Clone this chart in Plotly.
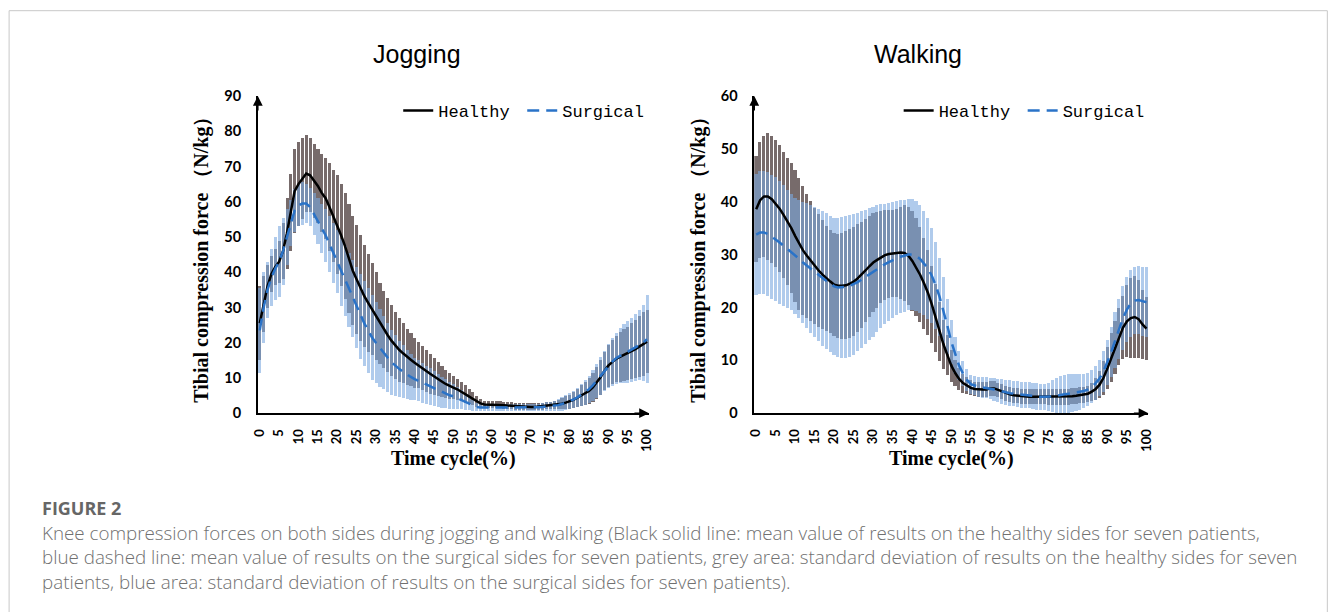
import plotly.graph_objects as go

# ---------------- data ----------------
TIME = list(range(101))                      # time cycle (%)
X_TICKS = list(range(0, 101, 5))
X_TICK_LABELS = [str(v) for v in X_TICKS]
JOG_Y_TICKS = list(range(0, 91, 10))
WALK_Y_TICKS = list(range(0, 61, 10))

JOG_H_MEAN = [
    25.5, 31, 36, 39.5, 41.5, 43, 46, 51, 57, 63,
    65, 66.5, 68, 67.5, 66, 64.5, 62.5, 61, 58.5, 56,
    53.5, 50.5, 47.5, 44, 40.5, 38, 35.5, 33.2, 31.3, 29.5,
    27.5, 25.5, 23.8, 22.2, 20.6, 19.2, 18, 17, 16, 15.2,
    14.3, 13.6, 12.8, 12, 11.2, 10.4, 9.6, 9, 8.3, 7.7,
    7.3, 6.8, 6.2, 5.5, 4.8, 4.1, 3.4, 2.8, 2.5, 2.5,
    2.5, 2.5, 2.4, 2.3, 2.2, 2.1, 2.0, 1.9, 1.9, 1.8,
    1.8, 1.8, 1.9, 2.0, 2.2, 2.3, 2.4, 2.5, 2.7, 3.0,
    3.3, 3.8, 4.4, 5.0, 5.6, 6.3, 7.3, 8.6, 10.2, 12,
    13.5, 14.5, 15.4, 16, 16.5, 17, 17.6, 18.2, 18.9, 19.6,
    20.3]
JOG_H_SD = [
    10.5, 8, 6, 5, 5, 6, 8, 10, 11, 12,
    12, 11.5, 11, 10.5, 10.5, 10.5, 11, 11.5, 12.5, 13,
    14, 14.5, 15, 15.5, 15.5, 15.5, 15, 14.5, 14, 13,
    12.5, 11.5, 11, 10.5, 10, 9.5, 9, 8.5, 8, 7.5,
    7, 6.5, 6.2, 6, 5.6, 5.2, 4.8, 4.4, 4, 3.6,
    3.2, 3, 2.8, 2.5, 2.2, 1.9, 1.5, 1.2, 1, 1,
    1, 1, 1, 1, 1, 1, 1, 1, 1, 1,
    1, 1, 1, 1, 1, 1, 1.2, 1.3, 1.5, 1.8,
    2, 2.3, 2.6, 3, 3.3, 3.7, 4, 4.5, 5, 5.5,
    6, 6.3, 6.6, 7, 7.3, 7.6, 8, 8.3, 8.6, 9,
    9]
JOG_S_MEAN = [
    23.5, 30, 35, 38.5, 41, 43, 46, 50, 54, 57.5,
    59, 59.5, 59.5, 58.5, 56.5, 54.5, 52.5, 50.5, 48, 45.5,
    43, 40, 37.5, 35, 32.5, 30, 27.5, 25.5, 23.5, 21.5,
    20, 18.5, 17.2, 15.8, 14.5, 13.5, 12.6, 11.8, 11, 10.3,
    9.7, 9.2, 8.6, 8.1, 7.5, 7, 6.5, 6, 5.5, 5.1,
    4.8, 4.3, 3.8, 3.2, 2.7, 2.2, 1.8, 1.6, 1.6, 1.6,
    1.7, 1.7, 1.7, 1.7, 1.6, 1.6, 1.5, 1.5, 1.5, 1.5,
    1.5, 1.6, 1.7, 1.8, 1.9, 2.0, 2.1, 2.3, 2.6, 3.0,
    3.4, 3.9, 4.5, 5.2, 5.9, 6.8, 7.9, 9.2, 10.6, 12,
    13.4, 14.6, 15.6, 16.3, 16.9, 17.4, 18, 18.6, 19.3, 20,
    21]
JOG_S_SD = [
    12, 10, 8, 8, 9, 10, 9.5, 8, 6.5, 6,
    6, 6, 5.5, 5.5, 6, 6.5, 7, 7.5, 8, 8.5,
    9, 9.5, 10, 10.5, 11, 11.5, 12, 12, 12, 12,
    11.5, 11, 10.4, 9.8, 9.2, 8.6, 8, 7.5, 7, 6.5,
    6, 5.8, 5.6, 5.4, 5.2, 5, 4.7, 4.4, 4.1, 3.8,
    3.5, 3.1, 2.7, 2.3, 1.9, 1.5, 1.2, 1, 1, 1,
    1, 1, 1, 1, 1, 1, 1, 1, 1, 1,
    1, 1, 1, 1.1, 1.2, 1.3, 1.5, 1.7, 1.9, 2.1,
    2.3, 2.5, 2.8, 3.1, 3.5, 3.9, 4.3, 4.8, 5.3, 5.8,
    6.3, 6.8, 7.3, 7.8, 8.3, 8.7, 9.1, 9.5, 10, 10.8,
    12.5]

WALK_H_MEAN = [
    38.6, 40.3, 41, 41, 40.5, 39.6, 38.7, 37.5, 36.3, 35,
    33.5, 32, 30.8, 29.8, 28.8, 27.8, 27, 26.2, 25.5, 24.9,
    24.3, 24.1, 24.1, 24.2, 24.5, 24.9, 25.5, 26.2, 27, 27.8,
    28.5, 29, 29.5, 29.9, 30.1, 30.2, 30.3, 30.4, 30.3, 29.8,
    28.8, 27.6, 26.2, 24.6, 22.8, 20.6, 18, 15.5, 13, 11,
    9, 7.6, 6.5, 5.7, 5.2, 4.8, 4.6, 4.5, 4.5, 4.5,
    4.7, 4.7, 4.4, 4.1, 3.8, 3.6, 3.4, 3.3, 3.2, 3.1,
    3.1, 3.1, 3.1, 3.1, 3.1, 3.1, 3.1, 3.1, 3.1, 3.1,
    3.1, 3.2, 3.3, 3.4, 3.5, 3.7, 4.1, 4.6, 5.4, 6.7,
    8.5, 10.5, 12.5, 14.5, 16.2, 17.4, 18, 18.2, 17.8, 16.8,
    16]
WALK_H_SD = [
    10, 11, 11.5, 12, 12, 12, 12, 12, 12, 12.3,
    12.5, 12.4, 12.2, 11.7, 11.3, 11, 10.6, 10.3, 10, 9.8,
    9.7, 9.8, 10, 10.2, 10.3, 10.3, 10.2, 10, 9.8, 9.6,
    9.3, 9, 8.7, 8.5, 8.3, 8.3, 8.4, 8.7, 9, 9.3,
    9.5, 9.3, 9, 8.6, 8, 7.3, 6.5, 5.6, 4.7, 3.8,
    3, 2.5, 2.1, 1.8, 1.6, 1.4, 1.4, 1.4, 1.4, 1.4,
    1.4, 1.4, 1.4, 1.4, 1.4, 1.4, 1.4, 1.4, 1.4, 1.4,
    1.4, 1.4, 1.4, 1.4, 1.4, 1.5, 1.5, 1.5, 1.5, 1.5,
    1.5, 1.5, 1.5, 1.5, 1.5, 1.5, 1.7, 2, 2.5, 3.2,
    4, 4.6, 5, 5.4, 6, 6.8, 7.5, 7.7, 7.4, 6.6,
    6]
WALK_S_MEAN = [
    33.8, 34.2, 34.2, 33.9, 33.4, 32.9, 32.3, 31.7, 31.1, 30.5,
    29.8, 29.2, 28.5, 27.9, 27.3, 26.7, 26.1, 25.5, 25, 24.5,
    24, 23.8, 23.8, 23.9, 24.1, 24.4, 24.8, 25.3, 25.8, 26.3,
    26.8, 27.3, 27.8, 28.2, 28.6, 29, 29.3, 29.6, 29.8, 30,
    30, 29.7, 29.2, 28.4, 27.4, 26, 24.2, 22, 19.5, 16.5,
    13.5, 11, 9, 7.5, 6.3, 5.5, 5.2, 5, 4.9, 4.8,
    4.7, 4.5, 4.3, 4.1, 3.9, 3.8, 3.7, 3.6, 3.5, 3.5,
    3.4, 3.3, 3.2, 3.1, 3.1, 3.1, 3.2, 3.3, 3.5, 3.6,
    3.7, 3.8, 3.9, 4, 4.2, 4.5, 5, 5.7, 6.6, 7.9,
    9.6, 11.6, 13.8, 16, 18, 19.6, 20.8, 21.3, 21.4, 21.2,
    21]
WALK_S_SD = [
    11.5, 11.6, 11.7, 11.7, 11.7, 11.7, 11.6, 11.4, 11.2, 11,
    11, 11.2, 11.5, 11.8, 12.1, 12.3, 12.5, 12.7, 12.8, 12.9,
    13, 13.2, 13.3, 13.4, 13.4, 13.3, 13.1, 12.9, 12.7, 12.5,
    12.3, 12, 11.7, 11.4, 11.2, 11, 10.8, 10.7, 10.6, 10.5,
    10.5, 10.4, 10.2, 9.9, 9.5, 9, 8.2, 7.3, 6.3, 5.2,
    4.2, 3.4, 2.8, 2.3, 2, 1.8, 1.8, 1.9, 2, 2,
    2, 2.1, 2.2, 2.3, 2.3, 2.4, 2.4, 2.5, 2.5, 2.5,
    2.5, 2.5, 2.5, 2.5, 2.5, 2.6, 3, 3.4, 3.6, 3.7,
    3.7, 3.6, 3.5, 3.4, 3.2, 3.1, 3.1, 3.2, 3.4, 3.8,
    4.3, 4.8, 5.3, 5.7, 6, 6.2, 6.3, 6.3, 6.4, 6.5,
    6.6]

PANEL_TITLES = ["Jogging", "Walking"]
X_TITLE = "Time cycle(%)"
Y_TITLE = "Tibial compression force （N/kg）"
SERIES_NAMES = ["Healthy", "Surgical"]
CAPTION_HEAD = "FIGURE 2"
CAPTION_LINES = [
    "Knee compression forces on both sides during jogging and walking (Black solid line: mean value of results on the healthy sides for seven patients,",
    "blue dashed line: mean value of results on the surgical sides for seven patients, grey area: standard deviation of results on the healthy sides for seven",
    "patients, blue area: standard deviation of results on the surgical sides for seven patients).",
]

# ---------------- placement ----------------
W, H = 1333, 612
BODY = 8                        # default page margin around the figure
SX, SY = (W + 2 * BODY) / W, (H + 2 * BODY) / H
def PX(x): return (x * SX - BODY) / W       # target picture pixel -> paper
def PY(y): return 1 - (y * SY - BODY) / H

GREY = "#776b6b"
BLUE_BAND = "rgba(123,168,223,0.6)"
BLUE_LINE = "#2a73c8"
XTICK_FONT = dict(family="Lato", size=13, color="black", weight="bold")
YTICK_FONT = dict(family="Lato", size=14.5, color="black", weight="bold")
AXT_FONT = dict(family="Liberation Serif", size=20, color="black", weight="bold")

fig = go.Figure()

def add_panel(xa, ya, h_mean, h_sd, s_mean, s_sd, legend):
    fig.add_trace(go.Bar(
        x=TIME, y=[2 * s for s in h_sd], base=[m - s for m, s in zip(h_mean, h_sd)],
        width=0.8, marker=dict(color=GREY, line=dict(width=0)),
        xaxis=xa, yaxis=ya, showlegend=False, hoverinfo="skip"))
    fig.add_trace(go.Bar(
        x=TIME, y=[2 * s for s in s_sd], base=[m - s for m, s in zip(s_mean, s_sd)],
        width=0.8, marker=dict(color=BLUE_BAND, line=dict(width=0)),
        xaxis=xa, yaxis=ya, showlegend=False, hoverinfo="skip"))
    fig.add_trace(go.Scatter(
        x=TIME, y=h_mean, mode="lines", name=SERIES_NAMES[0],
        line=dict(color="black", width=2.5), xaxis=xa, yaxis=ya, legend=legend))
    fig.add_trace(go.Scatter(
        x=TIME, y=s_mean, mode="lines", name=SERIES_NAMES[1],
        line=dict(color=BLUE_LINE, width=2.5, dash="12px,7px"),
        xaxis=xa, yaxis=ya, legend=legend))

add_panel("x", "y", JOG_H_MEAN, JOG_H_SD, JOG_S_MEAN, JOG_S_SD, "legend")
add_panel("x2", "y2", WALK_H_MEAN, WALK_H_SD, WALK_S_MEAN, WALK_S_SD, "legend2")

Y_DOM = [PY(413), PY(95)]

def xaxis_cfg(dom, anchor):
    return dict(domain=dom, anchor=anchor, range=[-0.5, 100.5],
                tickmode="array", tickvals=X_TICKS, ticktext=X_TICK_LABELS,
                tickangle=-90, tickfont=XTICK_FONT, ticks="", ticklabelstandoff=9,
                showline=True, linecolor="black", linewidth=1.5,
                showgrid=False, zeroline=False,
                title=dict(text=X_TITLE, font=AXT_FONT, standoff=0))

def yaxis_cfg(rng, ticks, anchor):
    return dict(domain=Y_DOM, anchor=anchor, range=rng,
                tickmode="array", tickvals=ticks, ticktext=[str(t) for t in ticks],
                tickfont=YTICK_FONT, ticks="", ticklabelstandoff=12,
                showline=True, linecolor="black", linewidth=1.5,
                showgrid=False, zeroline=False,
                title=dict(text=Y_TITLE, font=AXT_FONT, standoff=10))

legend_common = dict(orientation="h", yanchor="middle", xanchor="left",
                     font=dict(family="Liberation Mono", size=17, color="black"),
                     bgcolor="rgba(0,0,0,0)", borderwidth=0, itemwidth=30,
                     entrywidth=79, entrywidthmode="pixels", tracegroupgap=0)

TITLE_FONT = dict(family="Liberation Sans", size=25, color="black")
annotations = [
    dict(text=PANEL_TITLES[0], x=PX(417), y=PY(53), xref="paper", yref="paper",
         xanchor="center", yanchor="middle", showarrow=False, font=TITLE_FONT),
    dict(text=PANEL_TITLES[1], x=PX(916), y=PY(53), xref="paper", yref="paper",
         xanchor="center", yanchor="middle", showarrow=False, font=TITLE_FONT),
    dict(text=CAPTION_HEAD, x=PX(41), y=PY(508), xref="paper", yref="paper",
         xanchor="left", yanchor="middle", showarrow=False,
         font=dict(family="Open Sans", size=18, color="#666666", weight="bold")),
    dict(text="<br>".join(CAPTION_LINES), x=PX(41), y=PY(518), xref="paper", yref="paper",
         xanchor="left", yanchor="top", align="left", showarrow=False,
         font=dict(family="Open Sans", size=18.8, color="#707070", weight=300)),
]
# axis arrow heads
for xr, yr in (("x domain", "y domain"), ("x2 domain", "y2 domain")):
    annotations.append(dict(text="", xref=xr, yref=yr, x=0, y=1, ax=0, ay=16,
                            showarrow=True, arrowhead=2, arrowsize=1.3, arrowwidth=1.5,
                            arrowcolor="black"))
    annotations.append(dict(text="", xref=xr, yref=yr, x=1, y=0, ax=-16, ay=0,
                            showarrow=True, arrowhead=2, arrowsize=1.3, arrowwidth=1.5,
                            arrowcolor="black"))

fig.update_layout(
    width=W, height=H, margin=dict(l=0, r=0, t=0, b=0),
    paper_bgcolor="white", plot_bgcolor="white",
    barmode="overlay", bargap=0,
    xaxis=xaxis_cfg([PX(258), PX(648)], "y"),
    yaxis=yaxis_cfg([0, 90], JOG_Y_TICKS, "x"),
    xaxis2=xaxis_cfg([PX(753), PX(1146)], "y2"),
    yaxis2=yaxis_cfg([0, 60], WALK_Y_TICKS, "x2"),
    legend=dict(legend_common, x=PX(398), y=PY(110)),
    legend2=dict(legend_common, x=PX(897), y=PY(110)),
    annotations=annotations,
    shapes=[dict(type="rect", xref="paper", yref="paper",
                 x0=PX(10), x1=0.9995, y0=-0.1, y1=PY(9.5),
                 line=dict(color="#c8c8c8", width=1), fillcolor="rgba(0,0,0,0)")],
    showlegend=True,
)

fig.write_html("out.html")
